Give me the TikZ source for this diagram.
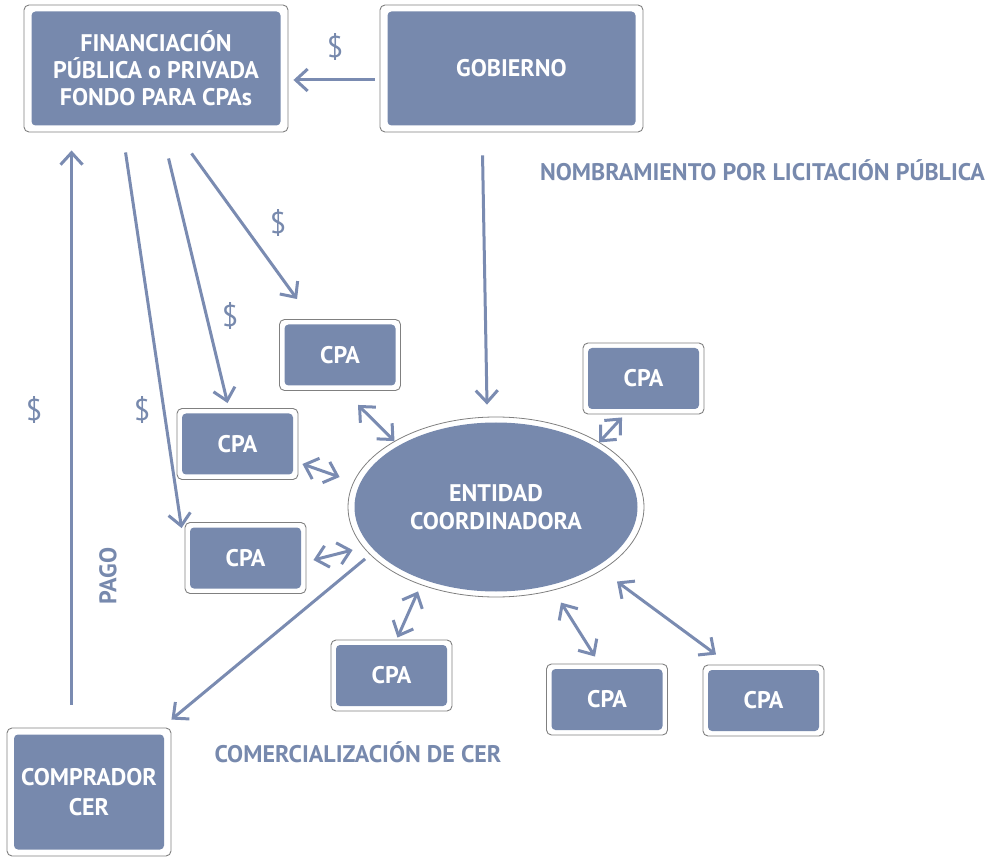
\documentclass[tikz,border=0pt]{standalone}
\usepackage{fontspec}
\setmainfont{PT Sans}
\usetikzlibrary{arrows.meta,calc,shapes.geometric}
\definecolor{bx}{HTML}{7789AD}
\definecolor{ln}{HTML}{7A8BB1}
\definecolor{edge}{HTML}{808080}
\tikzset{
  outerbox/.style={draw=edge,line width=0.9pt,fill=white,rounded corners=5pt,inner sep=0pt},
  innerbox/.style={fill=bx,rounded corners=4pt,inner sep=0pt,text=white,font=\fontsize{24}{27}\selectfont\bfseries,align=center},
  tip/.tip={Straight Barb[length=12pt,width=22pt,line width=3pt]},
  arr/.style={draw=ln,line width=3pt,-tip},
  dbl/.style={draw=ln,line width=3pt,tip-tip},
  lbl/.style={text=bx,font=\fontsize{24}{27}\selectfont\bfseries,inner sep=0pt},
  dol/.style={text=bx,font=\fontsize{30}{32}\selectfont,inner sep=0pt},
}
\begin{document}
\begin{tikzpicture}[x=1pt,y=-1pt]
\useasboundingbox (0,0) rectangle (991,858);
% big boxes
\node[outerbox,minimum width=264pt,minimum height=127pt] (fin) at (156,68.5) {};
\node[innerbox,minimum width=249pt,minimum height=114pt] at (fin) {FINANCIACIÓN\\PÚBLICA o PRIVADA\\FONDO PARA CPAs};
\node[outerbox,minimum width=263pt,minimum height=127pt] (gob) at (511.5,68.5) {};
\node[innerbox,minimum width=248pt,minimum height=114pt] at (gob) {GOBIERNO};
\node[outerbox,minimum width=164pt,minimum height=128pt] (comp) at (89,792) {};
\node[innerbox,minimum width=150pt,minimum height=115pt,font=\fontsize{24}{30}\selectfont\bfseries] at (comp) {COMPRADOR\\CER};
% ellipse
\node[ellipse,draw=edge,line width=0.8pt,fill=white,minimum width=296pt,minimum height=180pt,inner sep=0pt] (ent) at (496,507) {};
\node[ellipse,fill=bx,minimum width=283pt,minimum height=169pt,inner sep=0pt,text=white,font=\fontsize{24}{28}\selectfont\bfseries,align=center] at (ent) {ENTIDAD\\COORDINADORA};
% CPA boxes
\foreach \n/\x/\y in {c1/340/355, c2/643.5/378.5, c3/237.5/444, c4/245.5/558, c5/391.5/675.5, c6/607/699.5, c7/763.5/700.5}{
  \node[outerbox,minimum width=121pt,minimum height=71pt] (\n) at (\x,\y) {};
  \node[innerbox,minimum width=111pt,minimum height=61pt] at (\n) {CPA};
}
% single arrows
\draw[arr] ($(gob.west)+(-5,11.5)$) -- ($(fin.east)+(5,11.5)$);
\draw[arr] ($(fin.south west)+(102,20)$) -- ($(c4.north west)+(-3,6)$);
\draw[arr] ($(fin.south west)+(145,26)$) -- ($(c3.north west)+(51,-5)$);
\draw[arr] ($(fin.south west)+(168,21)$) -- ($(c1.north west)+(18,-20)$);
\draw[arr] ($(gob.south west)+(103,23)$) -- ($(ent.north)+(-9,-12)$);
\draw[arr] ($(comp.north west)+(65,-23)$) -- ($(fin.south west)+(48,18)$);
\draw[arr] ($(ent.south west)+(-26,-12)$) -- ($(comp.north east)+(0,-8)$);
% double arrows
\draw[dbl] ($(c1.south)+(18,14)$) -- ($(ent.147)+(0,0)$);
\draw[dbl] ($(c3.east)+(4,20)$) -- ($(ent.west)+(-8,-30)$);
\draw[dbl] ($(c4.east)+(7,2)$) -- ($(ent.west)+(5,43)$);
\draw[dbl] ($(c5.north)+(6,-2)$) -- ($(ent.south)+(-78,-6)$);
\draw[dbl] ($(c2.south)+(-21.5,3)$) -- ($(c2.south)+(-44.5,28)$);
\draw[dbl] ($(c6.north)+(-46,-61)$) -- ($(c6.north)+(-12,-7)$);
\draw[dbl] ($(c7.north)+(-146.5,-83)$) -- ($(c7.north)+(-47.5,-10)$);
% labels
\node[dol] (d1) at (335,47) {\$};
\node[dol] (d2) at (278,223) {\$};
\node[dol] (d3) at (230,316) {\$};
\node[dol] (d4) at (142,410) {\$};
\node[dol] (d5) at (34,410) {\$};
\node[lbl,rotate=90] (pago) at (108,576) {PAGO};
\node[lbl,anchor=east] (nomb) at (985,170) {NOMBRAMIENTO POR LICITACIÓN PÚBLICA};
\node[lbl] (comerc) at (358,752) {COMERCIALIZACIÓN DE CER};
\end{tikzpicture}
\end{document}
